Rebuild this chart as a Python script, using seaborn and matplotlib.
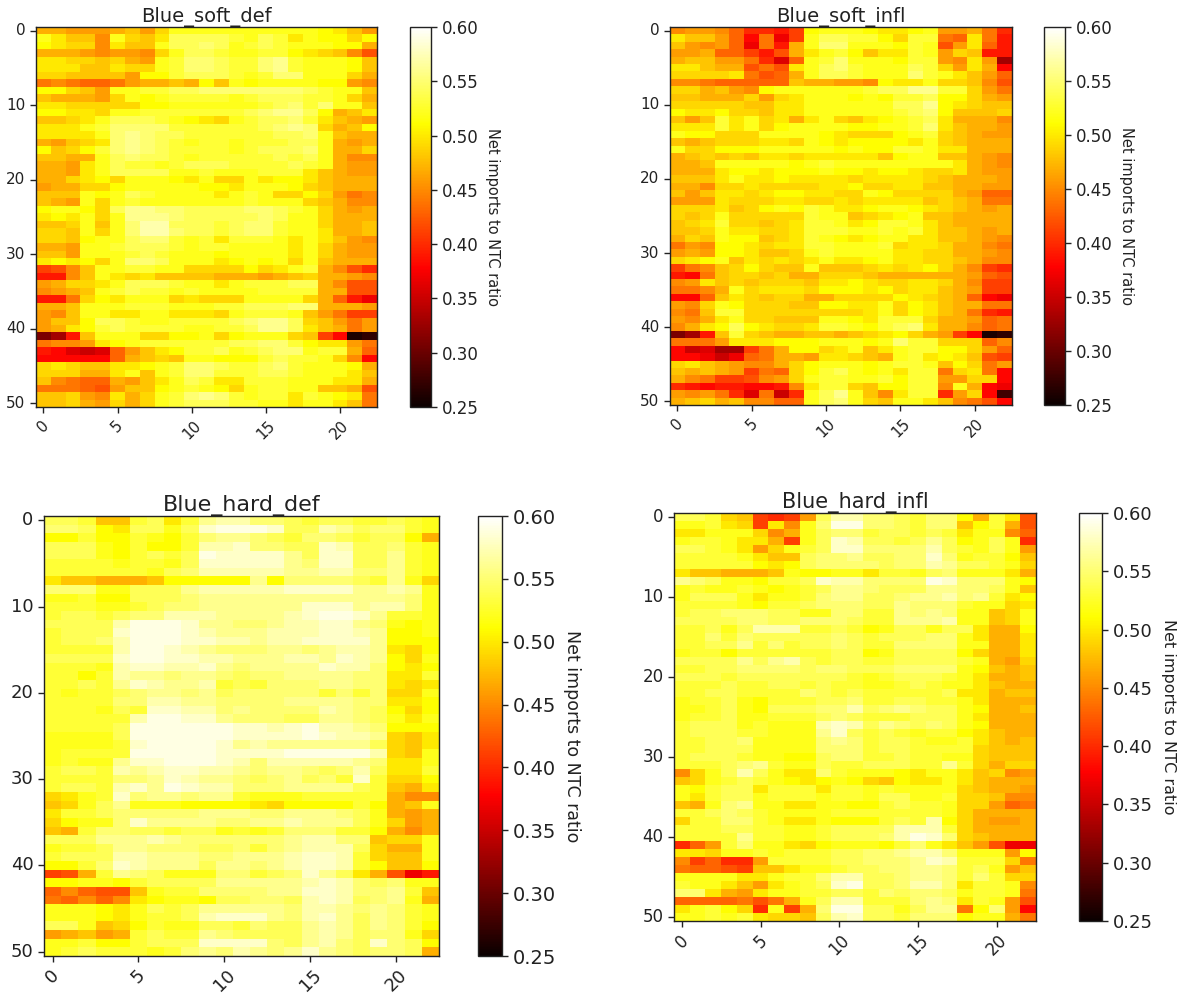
import numpy as np
import matplotlib
matplotlib.use("Agg")
import matplotlib.pyplot as plt
import seaborn as sns

# net imports to NTC ratio, in hundredths
soft_def = [
[47,47,46,46,46,47,48,46,49,52,52,52,52,52,52,52,52,52,52,51,50,48,46],
[52,50,48,48,45,52,49,48,50,54,54,54,54,53,52,54,53,50,52,51,51,49,51],
[51,50,49,49,45,50,48,48,52,54,54,55,54,52,53,54,53,52,52,52,51,51,47],
[47,47,47,46,45,46,46,45,49,52,54,54,53,52,52,53,53,51,50,49,48,45,42],
[50,50,49,49,48,49,47,46,52,53,55,55,54,53,53,55,56,53,52,52,52,51,48],
[50,50,50,48,48,50,49,49,52,53,55,55,54,53,53,55,56,53,52,52,52,51,48],
[49,49,48,48,48,48,46,51,51,53,54,54,54,53,52,53,55,55,52,52,52,49,47],
[44,45,44,43,43,44,46,47,47,48,47,51,48,52,51,52,52,52,52,51,51,46,45],
[51,51,49,48,46,52,52,53,53,54,54,55,55,55,55,55,55,55,54,53,52,52,48],
[48,47,47,47,46,49,52,51,52,53,53,53,53,52,53,54,54,54,53,53,52,49,47],
[50,50,49,49,49,49,49,51,51,52,52,52,52,52,52,53,54,55,53,55,52,52,48],
[51,51,50,50,49,52,52,53,53,53,53,53,53,53,54,55,56,56,54,51,47,48,50],
[48,48,49,50,52,54,54,54,53,52,51,50,49,52,53,54,54,55,53,50,48,47,46],
[50,50,50,52,53,55,55,55,55,53,53,53,53,53,53,54,55,56,55,49,47,48,51],
[50,50,50,50,52,55,56,55,54,54,53,53,53,53,53,53,54,54,55,52,48,47,47],
[47,46,48,49,50,55,56,55,54,53,52,53,53,52,53,53,53,54,54,52,47,46,47],
[51,48,49,51,53,55,56,55,54,53,53,53,53,52,53,54,54,54,55,52,47,47,49],
[48,48,47,47,52,54,55,54,54,53,52,53,53,53,53,53,54,53,54,52,47,45,45],
[47,47,46,50,52,54,53,53,52,53,54,54,54,53,53,53,53,54,53,52,47,46,46],
[47,47,46,50,52,54,54,54,54,52,52,53,52,52,52,53,53,53,50,48,47,46,46],
[47,47,49,50,51,49,52,52,52,51,50,52,49,49,52,50,51,51,50,48,47,47,47],
[46,47,47,49,49,51,52,52,52,52,52,51,51,50,52,52,52,51,49,48,47,47,47],
[48,48,48,52,51,52,54,53,52,52,52,52,50,52,53,52,49,49,51,49,46,44,45],
[48,47,46,52,49,52,53,52,52,52,52,52,52,52,53,52,52,52,49,48,47,45,45],
[51,52,52,51,49,54,56,56,55,55,54,54,54,54,55,55,54,53,52,49,47,46,47],
[50,51,50,52,49,52,56,56,56,55,54,54,54,54,54,55,54,52,52,49,47,47,47],
[48,48,49,52,48,52,55,57,57,54,54,54,53,54,55,55,53,52,52,49,47,47,48],
[49,49,48,52,49,52,55,57,57,55,54,54,53,54,55,55,53,52,52,50,47,47,48],
[49,49,48,51,52,52,54,55,55,53,52,53,50,53,53,53,52,50,52,50,48,46,45],
[47,47,46,52,52,53,54,54,54,53,52,53,53,52,52,52,52,50,52,49,47,46,46],
[48,48,46,52,52,52,53,54,53,52,52,52,51,52,52,52,52,50,52,49,47,46,46],
[50,51,50,51,49,52,55,55,54,52,52,52,50,51,52,51,52,49,52,48,47,47,47],
[41,42,45,48,52,52,53,53,52,52,49,49,49,49,51,49,50,52,53,47,45,42,40],
[39,39,45,48,52,50,49,50,48,48,48,48,47,47,47,46,47,48,49,47,47,46,45],
[46,47,49,49,50,52,54,54,54,53,52,52,50,52,53,53,53,54,54,47,45,42,42],
[45,46,47,48,52,53,54,53,53,52,53,52,52,52,52,53,53,53,53,47,47,42,42],
[39,39,44,49,51,50,52,52,52,49,50,49,49,49,52,52,52,52,49,47,43,39,37],
[47,47,48,52,52,52,53,53,53,52,52,52,53,53,54,54,54,55,55,47,47,47,46],
[46,45,48,52,52,50,50,52,52,50,50,50,49,52,53,53,53,52,48,46,44,41,41],
[46,48,48,51,54,54,53,52,52,53,53,53,53,54,55,56,56,54,49,48,46,44,46],
[46,47,50,51,53,54,53,53,53,53,52,52,53,53,54,56,56,54,50,48,47,44,46],
[31,33,39,48,52,52,52,49,49,51,51,52,49,51,52,52,52,49,48,41,38,26,27],
[44,45,45,46,50,51,52,53,53,53,53,53,53,54,54,55,55,53,51,50,50,46,44],
[39,38,36,35,36,43,46,48,50,51,53,53,54,52,53,54,55,55,52,53,53,47,43],
[38,38,38,38,38,43,47,48,49,48,52,52,51,51,51,53,54,53,53,52,49,45,38],
[49,50,49,48,48,50,50,51,52,53,55,55,54,53,53,54,55,53,52,52,52,51,47],
[49,49,49,47,47,50,52,48,52,53,55,55,53,53,53,54,54,53,52,52,52,50,48],
[48,45,44,43,43,47,46,48,50,52,54,53,50,50,53,53,53,52,52,52,50,50,47],
[44,44,44,43,42,46,48,48,51,52,53,52,51,49,52,53,53,52,52,48,48,47,42],
[48,48,49,46,45,50,47,49,52,53,55,56,55,53,52,53,53,50,53,52,51,50,44],
[48,48,49,47,46,49,47,49,52,53,54,54,54,53,53,52,52,50,52,52,50,48,44],
]

soft_infl = [
[45,46,46,45,43,40,40,39,41,51,52,52,52,51,50,50,51,52,46,46,47,44,40],
[50,48,48,46,43,38,44,37,41,52,54,54,53,53,51,49,53,53,44,43,50,44,39],
[48,46,45,46,43,37,44,39,47,52,55,55,52,52,52,51,53,52,42,46,50,43,39],
[46,46,47,43,43,41,39,42,47,50,52,53,51,48,50,50,53,52,46,49,48,39,39],
[47,48,48,46,46,44,40,36,43,52,53,55,52,52,52,51,53,53,46,45,50,46,33],
[50,50,48,47,47,42,44,42,50,52,54,55,53,52,52,52,54,53,49,46,50,47,38],
[49,49,49,49,50,44,42,43,47,52,54,54,53,52,52,52,55,53,52,50,48,46,43],
[45,45,44,43,43,43,43,43,48,47,47,46,46,45,51,50,50,52,49,49,48,45,42],
[49,49,47,48,46,45,51,52,52,52,52,52,52,53,54,54,56,56,53,53,49,46,44],
[48,48,47,47,47,49,46,49,50,52,52,52,51,52,51,53,53,54,51,51,49,47,46],
[49,49,49,49,49,48,48,50,50,52,52,52,52,52,52,54,54,56,51,50,49,48,48],
[51,50,50,51,49,49,48,50,50,52,52,52,52,52,52,53,54,55,51,48,48,48,49],
[48,46,48,53,50,52,49,50,47,50,52,49,48,50,51,52,53,54,50,47,47,47,45],
[50,50,50,53,50,52,49,51,52,52,52,52,51,51,52,52,53,55,50,48,47,47,46],
[52,51,51,49,49,49,52,52,52,52,51,50,49,49,49,51,52,53,49,48,47,46,46],
[48,47,48,49,49,49,50,50,49,52,51,50,51,51,51,51,50,52,49,48,47,47,47],
[52,49,49,51,51,51,52,52,52,52,52,51,52,51,51,53,53,52,50,50,47,47,47],
[47,48,49,48,49,48,50,50,49,50,50,50,50,50,48,51,52,52,48,48,47,46,45],
[47,47,48,52,52,52,52,52,51,52,53,52,52,52,52,52,52,52,52,50,47,46,45],
[47,47,47,50,51,51,50,51,51,51,52,51,51,50,51,51,50,49,49,50,47,46,46],
[48,48,48,50,52,50,50,51,50,50,50,50,49,50,50,50,50,49,48,47,47,47,46],
[47,47,45,49,49,50,49,49,49,49,50,50,51,49,49,50,50,48,48,47,47,46,46],
[48,46,48,50,50,49,50,51,51,50,50,49,49,52,51,49,49,49,49,47,46,43,43],
[46,46,46,50,49,49,49,50,50,49,49,50,49,50,50,50,50,48,49,48,47,44,44],
[49,49,49,50,48,49,51,52,51,53,52,50,50,51,52,52,51,50,49,48,47,46,47],
[49,48,49,52,49,49,49,49,49,53,52,52,48,49,50,51,52,48,48,47,47,47,47],
[48,49,50,53,49,49,48,49,50,53,53,52,50,51,53,53,52,50,48,47,47,47,47],
[48,48,49,52,50,50,49,49,50,53,53,53,52,52,53,52,53,50,48,48,47,46,47],
[47,49,48,52,51,51,48,49,50,53,52,51,50,51,52,52,50,50,48,48,47,46,45],
[44,46,45,51,51,50,49,50,50,53,53,52,52,52,53,49,50,50,49,47,47,45,44],
[46,47,46,51,51,50,48,48,49,52,53,52,52,52,52,50,50,49,49,47,47,46,45],
[49,50,51,52,48,50,49,50,49,50,52,50,50,51,52,50,50,49,49,48,47,45,45],
[41,44,45,48,49,51,49,48,48,52,48,48,48,49,50,49,50,51,49,47,45,41,40],
[39,38,44,48,49,49,48,49,47,47,49,49,49,48,47,47,47,47,47,47,46,43,42],
[45,46,50,48,49,48,49,49,49,48,50,50,51,50,49,49,50,50,49,47,45,41,41],
[44,44,45,47,52,49,50,50,50,49,51,51,51,50,51,49,50,50,48,47,46,41,41],
[38,38,43,48,50,49,48,49,49,47,47,49,49,49,49,51,50,49,48,47,43,38,37],
[46,45,49,52,51,49,49,49,48,48,51,51,50,50,52,49,51,50,48,47,47,44,44],
[45,44,48,53,53,49,49,49,49,49,49,49,49,50,52,49,51,50,48,47,44,40,39],
[46,45,47,50,52,49,49,48,48,48,52,52,51,50,53,53,53,49,47,47,46,43,44],
[45,47,50,51,54,51,50,49,49,50,53,53,52,51,53,54,55,50,47,47,45,43,44],
[31,33,39,48,53,49,48,47,47,48,48,47,48,49,50,51,49,47,46,41,38,26,27],
[44,44,44,46,50,50,50,51,51,51,52,52,52,51,52,55,53,53,49,49,49,43,45],
[38,35,36,33,33,41,44,47,51,51,49,50,52,48,50,52,53,53,51,51,49,46,43],
[38,38,37,35,37,43,44,47,47,46,50,50,49,48,47,52,53,50,51,50,48,42,41],
[49,50,48,47,46,45,45,47,49,51,52,52,52,51,52,53,53,52,48,51,49,44,46],
[48,47,48,47,46,41,44,43,49,51,53,54,52,51,52,50,53,53,44,49,50,44,38],
[47,45,44,41,41,42,45,46,49,52,53,53,52,52,53,51,53,53,46,46,49,49,38],
[40,39,38,39,39,38,38,39,45,50,53,53,49,48,51,51,53,53,45,52,47,38,37],
[46,45,46,44,40,36,44,35,40,52,54,56,52,48,45,50,53,53,40,46,49,38,28],
[47,48,49,47,48,45,45,43,43,52,54,55,52,49,48,52,52,50,48,45,44,42,38],
]

hard_def = [
[54,54,53,48,48,53,54,50,53,56,57,57,55,55,54,53,54,54,53,53,54,53,52],
[55,55,54,51,50,54,54,52,54,58,59,59,59,58,54,54,57,56,54,55,55,53,52],
[51,51,53,51,51,53,52,51,53,55,56,56,55,54,53,55,55,54,53,54,54,51,47],
[54,54,54,52,51,53,51,51,53,57,57,58,55,55,54,54,58,57,54,54,55,53,52],
[54,54,54,52,51,53,54,53,54,59,58,58,58,58,56,54,58,58,54,54,56,53,52],
[53,53,53,53,52,53,53,52,54,58,58,58,58,58,56,55,58,58,54,54,56,53,52],
[53,53,53,53,53,53,52,54,55,57,57,57,57,57,56,56,57,57,55,55,56,53,52],
[50,48,48,47,47,47,48,51,51,51,51,51,56,51,55,55,55,55,54,53,56,52,49],
[55,55,55,52,52,54,54,54,56,57,57,57,57,57,58,58,58,58,56,56,57,56,52],
[52,52,53,51,51,54,54,54,55,56,56,56,56,56,56,56,56,56,56,56,56,55,52],
[53,53,53,52,52,53,54,55,55,56,56,56,56,56,56,58,58,58,56,57,57,55,52],
[53,54,54,53,54,55,55,57,57,57,56,56,56,56,57,58,59,59,58,56,53,53,52],
[54,54,54,54,57,59,59,59,58,56,56,55,55,56,57,57,58,58,56,55,52,51,52],
[53,54,54,54,58,59,59,59,58,57,56,56,56,57,57,57,58,58,57,56,51,51,52],
[53,54,54,55,57,59,59,59,58,58,57,57,56,57,57,58,58,58,58,56,51,51,51],
[53,53,53,53,57,59,59,58,57,56,55,55,55,56,56,55,56,57,57,56,50,49,51],
[54,54,54,54,58,59,59,58,58,57,57,56,56,56,57,57,56,58,57,56,51,49,52],
[53,53,53,52,57,58,58,57,57,58,56,55,56,56,56,56,58,57,57,55,51,50,51],
[53,53,51,53,57,56,56,55,56,56,55,54,55,55,56,56,56,56,55,55,50,50,53],
[53,53,54,53,56,58,57,56,56,57,53,54,53,55,55,55,56,56,55,55,50,49,50],
[53,52,53,53,54,55,56,56,55,56,54,55,55,55,55,55,53,55,53,55,49,49,52],
[53,53,53,53,55,55,57,57,56,56,55,55,55,55,56,56,56,56,55,55,50,50,51],
[53,53,53,52,54,53,58,58,57,57,55,56,55,55,55,55,57,56,55,54,51,49,51],
[53,53,53,53,53,57,59,59,58,58,56,55,55,55,54,54,56,56,55,54,52,50,52],
[53,53,53,53,54,59,59,59,59,59,59,58,58,57,58,59,57,57,56,55,51,51,51],
[52,52,52,52,54,59,59,59,59,59,59,58,58,58,58,59,58,57,57,56,49,48,50],
[52,52,52,52,53,58,59,59,59,59,58,56,57,56,56,56,56,56,56,54,49,48,50],
[52,53,53,53,53,59,59,59,59,59,58,58,58,58,59,59,59,59,59,57,49,48,52],
[52,53,52,52,56,58,58,59,59,59,58,57,55,57,57,57,57,57,56,55,50,50,52],
[53,54,54,53,57,56,57,58,58,57,57,56,55,56,56,55,54,55,57,54,50,50,53],
[53,53,53,53,55,55,56,58,57,56,56,55,54,55,56,54,55,53,58,53,49,49,51],
[53,54,54,53,57,58,56,59,58,57,57,55,55,55,56,56,56,56,54,53,48,47,50],
[49,50,52,53,58,55,56,56,55,56,56,53,52,52,52,53,53,53,53,53,47,45,45],
[48,49,52,54,56,52,52,52,51,51,51,51,50,49,51,51,51,51,53,51,47,48,52],
[50,53,53,54,55,55,55,55,55,56,56,56,55,55,56,56,56,55,54,52,47,46,47],
[49,51,52,52,55,58,56,56,56,56,55,55,56,56,57,56,56,56,54,52,49,46,47],
[48,47,53,55,55,54,54,53,54,54,52,53,52,53,55,55,55,53,53,51,47,45,47],
[54,54,54,56,56,56,57,56,55,55,55,55,55,55,56,57,57,55,55,48,49,49,52],
[52,53,53,54,56,56,55,55,55,54,54,55,53,55,56,57,57,57,54,49,47,47,52],
[53,54,54,54,57,57,56,56,56,55,55,56,56,56,57,58,58,57,53,49,48,48,52],
[51,51,53,55,58,57,56,56,56,54,56,56,55,56,57,58,58,57,53,51,48,48,51],
[41,42,47,53,56,55,54,52,52,52,55,55,53,54,55,58,56,54,50,47,42,37,39],
[51,51,52,52,51,53,54,54,54,54,56,56,56,56,56,57,58,57,55,54,55,52,52],
[43,45,43,42,42,48,52,53,53,55,55,55,55,56,56,58,58,57,55,55,56,53,48],
[44,43,45,43,45,50,51,52,52,51,54,54,55,55,54,57,58,57,54,55,56,52,47],
[52,52,52,51,50,52,54,53,54,56,56,56,56,56,55,57,57,56,55,56,55,53,52],
[52,52,52,51,50,52,53,53,54,57,58,58,58,56,55,57,58,56,54,56,55,53,52],
[54,54,52,48,49,51,53,52,52,54,54,53,55,54,54,56,57,56,54,56,55,53,51],
[46,47,48,46,47,53,54,53,53,56,55,54,54,54,54,56,57,56,54,55,55,52,49],
[52,52,53,51,51,53,54,54,54,58,58,58,58,55,54,56,57,55,54,58,55,54,51],
[52,53,54,53,53,53,52,53,55,56,55,57,56,55,56,58,56,55,54,55,55,54,47],
]

hard_infl = [
[54,54,53,49,48,41,40,41,46,54,57,57,55,55,54,53,55,55,51,47,53,50,42],
[52,52,53,50,49,41,50,45,52,55,59,59,55,55,54,53,55,55,48,51,53,47,42],
[50,50,52,52,52,49,45,47,52,54,55,55,53,54,54,53,54,53,50,52,52,45,43],
[52,53,53,52,50,50,47,41,52,54,58,57,54,54,53,54,56,54,51,52,54,52,40],
[54,54,53,52,50,46,49,52,53,54,58,58,55,55,55,55,57,54,53,52,54,52,46],
[53,53,53,53,52,50,48,48,54,55,55,56,54,54,55,55,58,55,52,53,53,51,48],
[53,53,53,53,53,51,50,51,54,55,55,55,55,54,55,55,57,56,54,54,53,52,49],
[50,48,48,47,47,47,48,52,51,51,52,52,50,53,53,52,54,55,52,52,52,50,47],
[56,55,54,52,52,51,53,53,54,58,57,57,55,55,55,55,59,58,55,55,55,52,51],
[52,53,52,52,53,52,51,52,53,54,56,56,55,54,54,54,56,56,55,55,54,52,48],
[52,54,54,54,52,50,52,52,53,55,56,56,54,54,55,56,56,57,55,56,53,50,51],
[53,53,53,53,52,51,53,53,54,55,55,55,54,54,56,55,55,55,53,52,52,49,50],
[53,54,54,55,55,55,54,54,52,52,55,55,53,53,56,55,56,55,52,52,48,49,52],
[54,54,54,54,55,55,54,54,55,55,55,54,53,53,56,56,56,57,52,52,48,49,52],
[53,53,54,52,54,57,57,57,53,53,54,53,51,52,54,54,52,54,54,50,47,47,51],
[53,53,55,53,55,54,54,54,54,54,55,54,53,54,54,54,55,55,52,50,47,47,50],
[53,53,54,54,56,53,55,53,54,54,55,54,53,53,55,55,55,55,52,52,47,47,50],
[52,53,53,51,53,53,53,53,53,53,54,54,51,52,54,54,54,54,51,49,47,47,50],
[54,54,54,54,56,54,56,57,54,53,54,54,53,53,54,54,54,54,53,52,47,46,49],
[53,53,54,54,55,55,55,55,54,55,55,54,54,54,55,55,55,55,52,51,48,47,48],
[54,54,54,53,54,54,54,54,54,54,54,53,52,53,54,54,54,53,52,50,47,47,48],
[53,53,53,54,53,53,54,54,53,54,53,53,52,52,53,54,53,52,52,50,48,47,47],
[53,53,54,54,53,53,53,53,55,54,53,54,53,53,53,53,53,54,50,50,47,48,48],
[52,53,53,54,52,51,53,53,53,54,54,55,53,53,54,54,53,53,52,50,47,47,47],
[52,52,53,54,52,51,54,54,54,55,55,57,54,55,56,55,54,54,52,51,47,47,48],
[52,53,53,54,52,52,53,53,53,54,55,54,53,53,53,54,54,54,52,50,47,47,47],
[53,54,54,54,52,53,52,52,52,57,58,57,54,56,55,54,55,54,52,51,47,47,47],
[53,54,54,54,53,53,52,52,52,56,58,54,53,54,53,52,53,53,51,50,48,47,47],
[53,53,54,54,55,52,52,52,52,55,56,55,53,54,54,53,52,52,53,50,48,47,48],
[53,53,54,54,54,52,52,52,52,55,55,55,53,54,54,53,53,53,53,49,48,48,48],
[53,54,54,54,53,52,52,51,51,54,55,55,53,53,54,53,53,52,52,49,48,48,48],
[53,53,53,54,55,56,53,52,52,54,53,53,54,54,54,53,53,56,53,49,47,49,49],
[45,49,52,54,57,54,52,50,50,55,53,52,52,52,51,50,52,52,50,48,49,45,46],
[48,49,52,53,54,53,52,51,50,51,52,51,49,48,51,50,50,52,50,48,47,47,47],
[52,51,53,54,54,50,53,53,53,50,53,53,52,53,52,52,52,52,49,48,47,47,46],
[52,50,53,54,54,52,53,53,53,52,53,53,52,54,54,52,52,53,49,49,48,45,45],
[48,47,52,55,56,52,52,50,50,52,52,51,51,53,54,53,53,52,49,49,46,43,44],
[53,53,54,55,54,53,52,52,52,52,53,53,53,53,53,53,53,52,49,47,47,47,47],
[49,53,53,55,55,53,52,50,50,52,51,51,51,53,54,53,57,51,49,47,46,46,47],
[53,53,53,54,54,53,53,52,52,53,54,54,54,54,57,57,57,53,49,47,47,47,47],
[53,53,53,53,56,53,53,52,52,53,54,54,54,55,57,59,58,55,49,48,47,47,47],
[40,43,46,53,55,52,52,50,49,51,52,52,52,51,53,55,52,50,48,46,42,37,37],
[50,50,49,52,52,53,52,53,53,53,54,54,55,55,56,57,57,55,52,52,52,46,51],
[45,41,43,40,40,46,53,53,53,53,54,54,55,55,55,56,58,57,53,53,53,49,44],
[44,43,43,42,41,48,48,50,52,52,53,54,54,55,55,56,56,55,53,54,52,46,48],
[52,52,52,52,50,50,52,53,53,55,57,57,54,54,55,56,56,55,53,55,53,49,49],
[53,52,52,50,48,46,50,52,53,54,58,59,54,54,55,57,57,55,50,53,53,52,45],
[55,55,50,47,46,50,52,52,53,53,54,54,53,55,54,55,55,54,52,53,53,52,44],
[43,43,43,43,44,42,44,47,52,54,57,57,53,53,53,55,56,55,50,53,52,46,42],
[50,52,53,51,49,40,52,41,47,55,59,59,54,54,52,54,56,56,44,51,55,46,38],
[52,52,53,52,53,50,49,49,48,54,57,58,54,54,53,55,55,55,51,52,52,47,44],
]

titles = ["Blue_soft_def", "Blue_soft_infl", "Blue_hard_def", "Blue_hard_infl"]
matrices = [soft_def, soft_infl, hard_def, hard_infl]
cbar_ticks = [0.25, 0.30, 0.35, 0.40, 0.45, 0.50, 0.55, 0.60]
cbar_label = "Net imports to NTC ratio"

W, H = 1179, 1002
# left, right, top, bottom of heatmap; left, right of colour bar; font size
boxes = [
    (36, 377, 27, 407, 410, 431, 12.0),
    (670, 1012, 27, 405, 1044, 1065, 12.0),
    (44, 439, 516, 956, 478, 502, 14.0),
    (674, 1036, 513, 921, 1079, 1102, 13.0),
]

sns.set_theme(style="white", rc={"axes.edgecolor": "#222222", "xtick.bottom": True, "ytick.left": True})
plt.rcParams["font.family"] = ["DejaVu Sans"]
fig = plt.figure(figsize=(W / 100, H / 100), dpi=100, facecolor="white")

def rect(x0, x1, y0, y1):
    return [x0 / W, 1 - y1 / H, (x1 - x0) / W, (y1 - y0) / H]

for title, matrix, (l, r, t, b, cl, cr, fs) in zip(titles, matrices, boxes):
    ax = fig.add_axes(rect(l, r, t, b))
    cax = fig.add_axes(rect(cl, cr, t, b))
    data = np.array(matrix) / 100
    sns.heatmap(data, ax=ax, cbar_ax=cax, cmap="hot", vmin=0.25, vmax=0.60,
                xticklabels=5, yticklabels=10, rasterized=True, square=False,
                cbar_kws={"ticks": cbar_ticks, "format": "%.2f"})
    ax.set_title(title, fontsize=fs + 2, color="#222222", pad=2)
    ax.tick_params(axis="x", labelrotation=45, labelsize=fs - 1, length=4, width=1, colors="#222222")
    ax.tick_params(axis="y", labelrotation=0, labelsize=fs - 1, length=4, width=1, colors="#222222")
    for s in ax.spines.values():
        s.set_visible(True)
        s.set_linewidth(1)
    cax.tick_params(labelsize=fs, length=4, width=1, colors="#222222", right=True)
    cax.set_ylabel(cbar_label, rotation=270, labelpad=fs * 1.3, fontsize=fs - 1.5, color="#222222")
    cb = ax.collections[0].colorbar
    cb.outline.set_visible(True)
    cb.outline.set_linewidth(1)
    cb.outline.set_edgecolor("#222222")

fig.savefig("out.png", dpi=100, facecolor="white")
